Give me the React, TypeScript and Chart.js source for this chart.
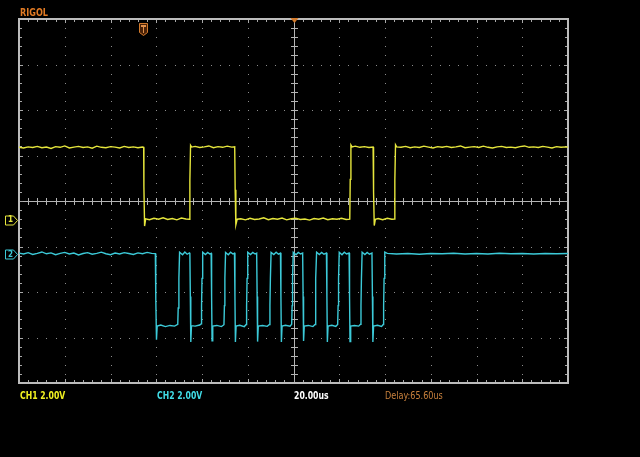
import React, { useEffect, useRef } from "react";
import { Chart, registerables } from "chart.js";

Chart.register(...registerables);

// Time axis in microseconds (20 us/div, 12 divisions), volts relative to screen centre (2 V/div, 8 divisions)
const timeRange: [number, number] = [-120, 120];
const voltRange: [number, number] = [-8, 8];
const timeDivisions = 12;
const voltDivisions = 8;

// CH1 (yellow) trace: [time us, volts]
const ch1Trace: [number, number][] = [
  [-120, 2.36], [-118, 2.33], [-116, 2.38], [-114, 2.35], [-112, 2.4], [-110, 2.34], [-108, 2.37], [-106, 2.31],
  [-104, 2.39], [-102, 2.36], [-100, 2.42], [-98, 2.33], [-96, 2.37], [-94, 2.4], [-92, 2.35], [-90, 2.38],
  [-88, 2.32], [-86, 2.41], [-84, 2.36], [-82, 2.34], [-80, 2.39], [-78, 2.37], [-76, 2.33], [-74, 2.4],
  [-72, 2.35], [-70, 2.38], [-68, 2.34], [-66, 2.37],
  [-65.5, 2.36], [-65.4, 0.64], [-65.1, -1.1], [-64.6, -0.78],
  [-63, -0.82], [-61, -0.76], [-59, -0.8], [-57, -0.74], [-55, -0.81], [-53, -0.77], [-51, -0.83], [-49, -0.75], [-47, -0.79],
  [-45.5, -0.8], [-45.3, 0.9], [-45.0, 2.45], [-44.5, 2.37],
  [-43, 2.4], [-41, 2.35], [-39, 2.38], [-37, 2.42], [-35, 2.34], [-33, 2.39], [-31, 2.36], [-29, 2.41], [-27, 2.37],
  [-25.7, 2.38], [-25.5, 0.5], [-25.2, -1.05], [-24.6, -0.8],
  [-23, -0.78], [-21, -0.83], [-19, -0.76], [-17, -0.81], [-15, -0.79], [-13, -0.74], [-11, -0.82], [-9, -0.77],
  [-7, -0.8], [-5, -0.75], [-3, -0.83], [-1, -0.78], [1, -0.76], [3, -0.81], [5, -0.79], [7, -0.84],
  [9, -0.77], [11, -0.8], [13, -0.75], [15, -0.82], [17, -0.78], [19, -0.8], [21, -0.76], [23, -0.81],
  [24.6, -0.8], [24.8, 0.95], [25.1, 2.46], [25.6, 2.38],
  [27, 2.41], [29, 2.36], [31, 2.39], [33, 2.35],
  [34.8, 2.37], [35.0, 0.4], [35.3, -1.08], [35.8, -0.8],
  [37, -0.77], [39, -0.82], [41, -0.76], [43, -0.8],
  [44.1, -0.79], [44.3, 0.9], [44.6, 2.47], [45.1, 2.38],
  [47, 2.36], [49, 2.4], [51, 2.34], [53, 2.38], [55, 2.35], [57, 2.41], [59, 2.37], [61, 2.33],
  [63, 2.39], [65, 2.36], [67, 2.4], [69, 2.35], [71, 2.38], [73, 2.42], [75, 2.34], [77, 2.37],
  [79, 2.39], [81, 2.35], [83, 2.41], [85, 2.36], [87, 2.33], [89, 2.38], [91, 2.4], [93, 2.35],
  [95, 2.37], [97, 2.34], [99, 2.39], [101, 2.42], [103, 2.36], [105, 2.38], [107, 2.35], [109, 2.4],
  [111, 2.37], [113, 2.33], [115, 2.39], [117, 2.36], [119, 2.38], [120, 2.37],
];

// CH2 (cyan) trace: [time us, volts]
const ch2Trace: [number, number][] = [
  [-120, -2.29], [-118, -2.33], [-116, -2.27], [-114, -2.35], [-112, -2.3], [-110, -2.24], [-108, -2.32], [-106, -2.28],
  [-104, -2.36], [-102, -2.3], [-100, -2.26], [-98, -2.33], [-96, -2.29], [-94, -2.37], [-92, -2.31], [-90, -2.27],
  [-88, -2.34], [-86, -2.3], [-84, -2.25], [-82, -2.32], [-80, -2.36], [-78, -2.29], [-76, -2.33], [-74, -2.27],
  [-72, -2.31], [-70, -2.35], [-68, -2.28], [-66, -2.32], [-64, -2.26], [-62, -2.3],
  [-60.4, -2.31], [-60.2, -4.3], [-59.9, -6.1], [-59.6, -5.5],
  [-58, -5.45], [-56, -5.52], [-54, -5.47], [-52, -5.5], [-50.6, -5.42],
  [-50.4, -4.7], [-50.1, -3.4], [-49.8, -2.25],
  [-48.5, -2.36], [-47.5, -2.24], [-46.5, -2.34], [-45.5, -2.28],
  [-45.3, -2.32], [-45.1, -4.2], [-44.9, -6.2], [-44.6, -5.48],
  [-43, -5.5], [-41, -5.45], [-40.4, -5.4],
  [-40.2, -4.6], [-40.0, -3.4], [-39.7, -2.25],
  [-38.5, -2.35], [-37.5, -2.26], [-36.6, -2.33],
  [-36.0, -2.3], [-35.8, -4.2], [-35.6, -6.15], [-35.3, -5.5],
  [-33.5, -5.47], [-31.5, -5.52], [-30.4, -5.44],
  [-30.2, -4.6], [-30.0, -3.4], [-29.7, -2.26],
  [-28.5, -2.36], [-27.5, -2.25], [-26.5, -2.33], [-25.8, -2.29],
  [-25.6, -4.2], [-25.4, -6.2], [-25.1, -5.5],
  [-23.5, -5.46], [-21.5, -5.52], [-20.7, -5.43],
  [-20.5, -4.6], [-20.3, -3.4], [-20.0, -2.25],
  [-18.8, -2.35], [-17.8, -2.26], [-16.8, -2.33], [-16.1, -2.29],
  [-15.9, -4.2], [-15.7, -6.18], [-15.4, -5.5],
  [-13.5, -5.47], [-11.5, -5.51], [-10.5, -5.43],
  [-10.3, -4.6], [-10.1, -3.4], [-9.8, -2.26],
  [-8.6, -2.35], [-7.6, -2.25], [-6.6, -2.34], [-5.7, -2.29],
  [-5.5, -4.2], [-5.3, -6.2], [-5.0, -5.5],
  [-3.5, -5.46], [-1.5, -5.5], [-0.8, -5.42],
  [-0.6, -4.6], [-0.4, -3.4], [-0.1, -2.25],
  [1.1, -2.36], [2.1, -2.26], [3.1, -2.33], [4.0, -2.29],
  [4.2, -4.2], [4.4, -6.15], [4.7, -5.5],
  [6.5, -5.47], [8.5, -5.52], [9.4, -5.43],
  [9.6, -4.6], [9.8, -3.4], [10.1, -2.25],
  [11.3, -2.35], [12.3, -2.26], [13.3, -2.34], [14.4, -2.29],
  [14.6, -4.2], [14.8, -6.2], [15.1, -5.5],
  [16.8, -5.46], [18.5, -5.51], [19.3, -5.43],
  [19.5, -4.6], [19.7, -3.4], [20.0, -2.25],
  [21.2, -2.36], [22.2, -2.25], [23.2, -2.33], [24.3, -2.29],
  [24.5, -4.2], [24.7, -6.18], [25.0, -5.5],
  [26.7, -5.47], [28.5, -5.5], [29.3, -5.42],
  [29.5, -4.6], [29.7, -3.4], [30.0, -2.25],
  [31.2, -2.35], [32.2, -2.26], [33.2, -2.34], [34.3, -2.29],
  [34.5, -4.2], [34.7, -6.2], [35.0, -5.5],
  [36.7, -5.46], [38.5, -5.51], [39.2, -5.43],
  [39.4, -4.6], [39.6, -3.4], [39.9, -2.25],
  [41, -2.3], [45, -2.33], [50, -2.31], [55, -2.34], [60, -2.31], [65, -2.32], [70, -2.3], [75, -2.33],
  [80, -2.31], [85, -2.33], [90, -2.3], [95, -2.32], [100, -2.31], [105, -2.33], [110, -2.31], [115, -2.32], [120, -2.31],
];

// Channel ground markers (volts, relative to screen centre) and trigger time marker
const ch1MarkerVolt = -0.85;
const ch2MarkerVolt = -2.35;
const triggerMarkerTime = -65.6;

const YELLOW = "#e6e63c";
const CYAN = "#3ccad8";
const ORANGE = "#d27a2c";

const scopePlugin = {
  id: "scopeScreen",
  beforeDraw(chart: any) {
    const { ctx } = chart;
    ctx.save();
    ctx.fillStyle = "#000";
    ctx.fillRect(0, 0, chart.width, chart.height);
    ctx.restore();
  },
  beforeDatasetsDraw(chart: any) {
    const { ctx, chartArea, scales } = chart;
    const { left, right, top, bottom } = chartArea;
    const xs = scales.x;
    const ys = scales.y;
    const tStep = (timeRange[1] - timeRange[0]) / timeDivisions;
    const vStep = (voltRange[1] - voltRange[0]) / voltDivisions;
    ctx.save();
    // dotted grid
    ctx.fillStyle = "#8c8c8c";
    for (let i = 1; i < timeDivisions; i++) {
      if (i === timeDivisions / 2) continue;
      const px = Math.round(xs.getPixelForValue(timeRange[0] + i * tStep));
      for (let j = 1; j < voltDivisions * 5; j++) {
        const py = Math.round(ys.getPixelForValue(voltRange[0] + (j * vStep) / 5));
        ctx.fillRect(px, py, 1, 1);
      }
    }
    for (let j = 1; j < voltDivisions; j++) {
      if (j === voltDivisions / 2) continue;
      const py = Math.round(ys.getPixelForValue(voltRange[0] + j * vStep));
      for (let i = 1; i < timeDivisions * 5; i++) {
        const px = Math.round(xs.getPixelForValue(timeRange[0] + (i * tStep) / 5));
        ctx.fillRect(px, py, 1, 1);
      }
    }
    // centre cross
    ctx.fillStyle = "#b4b4b4";
    const cx = Math.round(xs.getPixelForValue(0));
    const cy = Math.round(ys.getPixelForValue(0));
    ctx.fillRect(left, cy, right - left, 1);
    ctx.fillRect(cx, top, 1, bottom - top);
    for (let i = 1; i < timeDivisions * 5; i++) {
      const px = Math.round(xs.getPixelForValue(timeRange[0] + (i * tStep) / 5));
      ctx.fillRect(px, cy - 3, 1, 7);
    }
    for (let j = 1; j < voltDivisions * 5; j++) {
      const py = Math.round(ys.getPixelForValue(voltRange[0] + (j * vStep) / 5));
      ctx.fillRect(cx - 3, py, 7, 1);
    }
    // border ticks
    ctx.fillStyle = "#a8a8a8";
    for (let i = 1; i < timeDivisions * 5; i++) {
      const px = Math.round(xs.getPixelForValue(timeRange[0] + (i * tStep) / 5));
      const len = i % 5 === 0 ? 4 : 3;
      ctx.fillRect(px, top, 1, len);
      ctx.fillRect(px, bottom - len, 1, len);
    }
    for (let j = 1; j < voltDivisions * 5; j++) {
      const py = Math.round(ys.getPixelForValue(voltRange[0] + (j * vStep) / 5));
      const len = j % 5 === 0 ? 4 : 3;
      ctx.fillRect(left, py, len, 1);
      ctx.fillRect(right - len, py, len, 1);
    }
    // border
    ctx.strokeStyle = "#bcbcbc";
    ctx.lineWidth = 2;
    ctx.strokeRect(left, top, right - left, bottom - top);
    ctx.restore();
  },
  afterDatasetsDraw(chart: any) {
    const { ctx, chartArea, scales } = chart;
    const { top } = chartArea;
    const xs = scales.x;
    const ys = scales.y;
    ctx.save();
    // channel markers
    const drawMarker = (v: number, color: string) => {
      const py = Math.round(ys.getPixelForValue(v)) + 0.5;
      ctx.strokeStyle = color;
      ctx.lineWidth = 1;
      ctx.beginPath();
      ctx.moveTo(5.5, py - 4.5);
      ctx.lineTo(13.5, py - 4.5);
      ctx.lineTo(17.5, py);
      ctx.lineTo(13.5, py + 4.5);
      ctx.lineTo(5.5, py + 4.5);
      ctx.closePath();
      ctx.stroke();
    };
    drawMarker(ch1MarkerVolt, YELLOW);
    drawMarker(ch2MarkerVolt, CYAN);
    // trigger time marker (shield)
    const tx = Math.round(xs.getPixelForValue(triggerMarkerTime));
    ctx.fillStyle = "#4a2208";
    ctx.strokeStyle = ORANGE;
    ctx.beginPath();
    ctx.moveTo(tx - 3.5, top + 4.5);
    ctx.lineTo(tx + 4.5, top + 4.5);
    ctx.lineTo(tx + 4.5, top + 13.5);
    ctx.lineTo(tx + 0.5, top + 16.5);
    ctx.lineTo(tx - 3.5, top + 13.5);
    ctx.closePath();
    ctx.fill();
    ctx.stroke();
    ctx.fillStyle = "#e0904a";
    ctx.fillRect(tx - 2, top + 6, 5, 2);
    ctx.fillRect(tx, top + 6, 1, 8);
    // trigger position marker on top border
    const cx = Math.round(xs.getPixelForValue(0)) + 0.5;
    ctx.fillStyle = ORANGE;
    ctx.beginPath();
    ctx.moveTo(cx - 4, top - 1);
    ctx.lineTo(cx + 4, top - 1);
    ctx.lineTo(cx, top + 4);
    ctx.closePath();
    ctx.fill();
    ctx.restore();
  },
};

const labelBase: React.CSSProperties = {
  position: "absolute",
  fontFamily: '"DejaVu Sans Condensed", "Liberation Sans", sans-serif',
  fontSize: "10px",
  lineHeight: "10px",
  whiteSpace: "nowrap",
  letterSpacing: "0px",
  transformOrigin: "0 0",
  transform: "scaleX(0.86)",
};

export default function App() {
  const canvasRef = useRef<HTMLCanvasElement | null>(null);

  useEffect(() => {
    document.body.style.margin = "0";
    document.body.style.background = "#000";
    const canvas = canvasRef.current;
    if (!canvas) return;
    const chart = new Chart(canvas, {
      type: "line",
      data: {
        datasets: [
          {
            label: "CH1",
            data: ch1Trace.map(([x, y]) => ({ x, y })),
            borderColor: YELLOW,
            borderWidth: 1.4,
            pointRadius: 0,
            tension: 0,
          },
          {
            label: "CH2",
            data: ch2Trace.map(([x, y]) => ({ x, y })),
            borderColor: CYAN,
            borderWidth: 1.4,
            pointRadius: 0,
            tension: 0,
          },
        ],
      },
      options: {
        animation: false,
        responsive: false,
        maintainAspectRatio: false,
        devicePixelRatio: 1,
        layout: { padding: { left: 19, top: 19, right: 72, bottom: 74 } },
        plugins: { legend: { display: false }, tooltip: { enabled: false }, title: { display: false } },
        scales: {
          x: { type: "linear", min: timeRange[0], max: timeRange[1], display: false },
          y: { type: "linear", min: voltRange[0], max: voltRange[1], display: false },
        },
      },
      plugins: [scopePlugin],
    });
    return () => chart.destroy();
  }, []);

  return (
    <div style={{ position: "relative", width: 640, height: 457, background: "#000", overflow: "hidden" }}>
      <canvas ref={canvasRef} width={640} height={457} style={{ display: "block", width: 640, height: 457 }} />
      <div style={{ ...labelBase, left: 20, top: 7, color: "#e07a24", fontWeight: "bold", fontSize: "11px", lineHeight: "11px", transform: "scaleX(0.82)" }}>RIGOL</div>
      <div style={{ ...labelBase, left: 8, top: 216, color: YELLOW, fontWeight: "bold", fontSize: "8px", lineHeight: "8px", transform: "none" }}>1</div>
      <div style={{ ...labelBase, left: 8, top: 251, color: CYAN, fontWeight: "bold", fontSize: "8px", lineHeight: "8px", transform: "none" }}>2</div>
      <div style={{ ...labelBase, left: 20, top: 391, color: "#f0f020", fontWeight: "bold" }}>CH1 2.00V</div>
      <div style={{ ...labelBase, left: 157, top: 391, color: "#40dce6", fontWeight: "bold" }}>CH2 2.00V</div>
      <div style={{ ...labelBase, left: 294, top: 391, color: "#ffffff", fontWeight: "bold" }}>20.00us</div>
      <div style={{ ...labelBase, left: 385, top: 391, color: "#c8803c", transform: "scaleX(0.9)" }}>Delay:65.60us</div>
    </div>
  );
}
